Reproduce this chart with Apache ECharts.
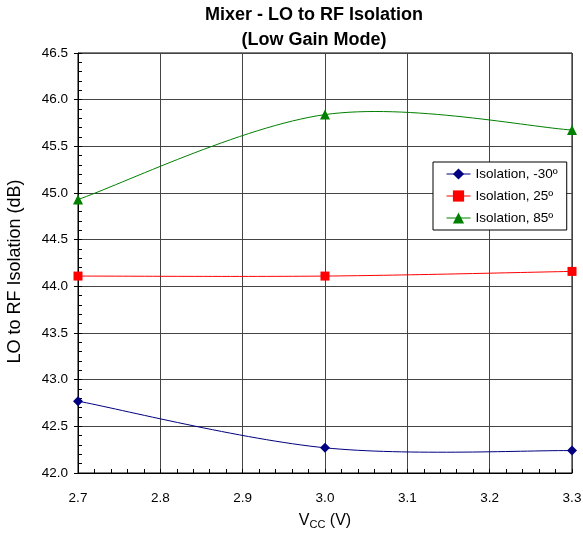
<!DOCTYPE html>
<html>
<head>
<meta charset="utf-8">
<script src="https://cdn.jsdelivr.net/npm/echarts@6/dist/echarts.min.js"></script>
<style>
  html, body { margin: 0; padding: 0; background: #fff; }
  #chart { width: 583px; height: 536px; }
</style>
</head>
<body>
<div id="chart"></div>
<script>
// Supply voltage (V)
const vcc = [2.7, 3.0, 3.3];
// LO to RF isolation (dB) per temperature
const isoCold = [42.77, 42.27, 42.24];   // -30º
const isoRoom = [44.11, 44.11, 44.16];   // 25º
const isoHot  = [44.93, 45.84, 45.675];  // 85º

const seriesNames = ['Isolation, -30º', 'Isolation, 25º', 'Isolation, 85º'];
const seriesColors = ['#000080', '#ff0000', '#008000'];
const seriesSymbols = ['diamond', 'rect', 'triangle'];
const seriesValues = [isoCold, isoRoom, isoHot];

const font = 'Liberation Sans, Arial, sans-serif';

const chart = echarts.init(document.getElementById('chart'), null, { renderer: 'canvas' });

// Cardinal (Catmull-Rom) spline segment between point i-1 and i, in pixel space
function splineSegment(api, vals, i) {
  const n = vcc.length;
  const pt = k => {
    const c = Math.max(0, Math.min(n - 1, k));
    return api.coord([vcc[c], vals[c]]);
  };
  const p0 = pt(i - 2), p1 = pt(i - 1), p2 = pt(i), p3 = pt(i + 1);
  const c1 = [p1[0] + (p2[0] - p0[0]) / 6, p1[1] + (p2[1] - p0[1]) / 6];
  const c2 = [p2[0] - (p3[0] - p1[0]) / 6, p2[1] - (p3[1] - p1[1]) / 6];
  return 'M' + p1.join(',') + ' C' + c1.join(',') + ' ' + c2.join(',') + ' ' + p2.join(',');
}

const curveSeries = seriesValues.map((vals, i) => ({
  type: 'custom',
  name: seriesNames[i] + ' curve',
  data: vcc.map((x, j) => [x, vals[j]]),
  encode: { x: 0, y: 1 },
  silent: true,
  z: 3,
  renderItem: (params, api) => {
    const idx = params.dataIndex;
    if (idx === 0) return null;
    return {
      type: 'path',
      shape: { pathData: splineSegment(api, vals, idx) },
      style: { stroke: seriesColors[i], fill: 'none', lineWidth: 1 }
    };
  }
}));

const markerSeries = seriesValues.map((vals, i) => ({
  name: seriesNames[i],
  type: 'line',
  data: vcc.map((x, j) => [x, vals[j]]),
  symbol: seriesSymbols[i],
  symbolSize: seriesSymbols[i] === 'rect' ? 9 : 10,
  showSymbol: true,
  color: seriesColors[i],
  lineStyle: { width: 1, color: seriesColors[i], opacity: 0 },
  itemStyle: { color: seriesColors[i] },
  emphasis: { disabled: true },
  z: 5
}));

chart.setOption({
  animation: false,
  backgroundColor: '#fff',
  title: {
    text: 'Mixer - LO to RF Isolation\n(Low Gain Mode)',
    left: 314,
    top: 2.5,
    padding: 0,
    textAlign: 'center',
    textStyle: { fontFamily: font, fontSize: 18, fontWeight: 'bold', color: '#000', lineHeight: 25 }
  },
  grid: {
    left: 78, right: 11, top: 53, bottom: 63,
    outerBoundsMode: 'none',
    containLabel: false,
    show: true, borderColor: '#000', borderWidth: 1, backgroundColor: 'transparent'
  },
  legend: {
    orient: 'vertical',
    left: 433,
    top: 162,
    padding: [5, 9, 5, 13],
    itemGap: 8,
    itemWidth: 24,
    itemHeight: 14,
    backgroundColor: '#fff',
    borderColor: '#000',
    borderWidth: 1,
    textStyle: { fontFamily: font, fontSize: 13.5, color: '#000' },
    data: seriesNames.map((name, i) => ({
      name: name,
      lineStyle: { opacity: 1, width: 1, color: seriesColors[i] }
    }))
  },
  xAxis: [{
    type: 'value',
    min: 2.7, max: 3.3, interval: 0.1,
    name: '{v|V}{s|CC}{v| (V)}',
    nameLocation: 'middle',
    nameGap: 38,
    nameTextStyle: {
      rich: {
        v: { fontFamily: font, fontSize: 16, color: '#000', lineHeight: 20 },
        s: { fontFamily: font, fontSize: 11, color: '#000', lineHeight: 20, padding: [7, 0, 0, 0] }
      }
    },
    axisLine: { show: true, lineStyle: { color: '#000', width: 1 } },
    axisTick: { show: true, inside: true, length: 4, lineStyle: { color: '#000' } },
    minorTick: { show: true, splitNumber: 5, length: 4, lineStyle: { color: '#000' } },
    axisLabel: { fontFamily: font, fontSize: 13.5, color: '#000', margin: 18,
      formatter: v => v.toFixed(1) },
    splitLine: { show: true, lineStyle: { color: '#444', width: 1 } }
  }],
  yAxis: [{
    type: 'value',
    min: 42, max: 46.5, interval: 0.5,
    name: 'LO to RF Isolation (dB)',
    nameLocation: 'middle',
    nameGap: 54,
    nameTextStyle: { fontFamily: font, fontSize: 18, color: '#000', padding: [0, 17, 0, 0] },
    axisLine: { show: true, lineStyle: { color: '#000', width: 1 } },
    axisTick: { show: true, inside: false, length: 4, lineStyle: { color: '#000' } },
    axisLabel: { fontFamily: font, fontSize: 13.5, color: '#000', margin: 10,
      formatter: v => v.toFixed(1) },
    splitLine: { show: true, lineStyle: { color: '#444', width: 1 } }
  }, {
    // overlay axis carrying the inward-facing minor ticks
    type: 'value',
    position: 'left',
    min: 42, max: 46.5, interval: 0.5,
    axisLine: { show: false },
    axisTick: { show: true, inside: true, length: 4, lineStyle: { color: '#000' } },
    minorTick: { show: true, splitNumber: 5, length: 4, lineStyle: { color: '#000' } },
    axisLabel: { show: false },
    splitLine: { show: false }
  }],
  series: curveSeries.concat(markerSeries)
});
</script>
</body>
</html>
